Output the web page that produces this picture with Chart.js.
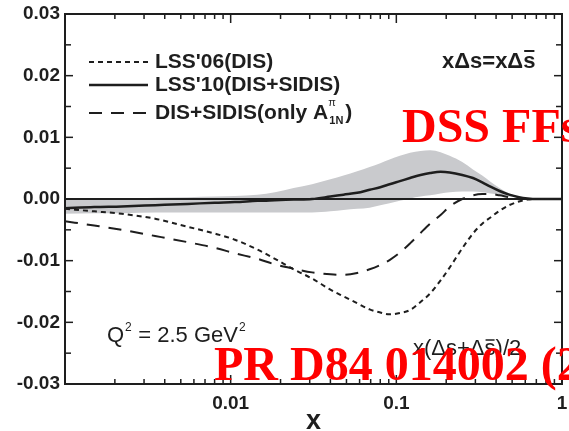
<!DOCTYPE html>
<html>
<head>
<meta charset="utf-8">
<script src="https://cdn.jsdelivr.net/npm/chart.js@4.4.1/dist/chart.umd.min.js"></script>
<style>
  html, body { margin: 0; padding: 0; background: #fff; }
  #wrap { width: 569px; height: 431px; }
</style>
</head>
<body>
<div id="wrap"><canvas id="chart"></canvas></div>
<script>
// x values shared by all curves
var xValues = [0.001, 0.0015, 0.0022, 0.0035, 0.0055, 0.008, 0.0106, 0.0145, 0.0185, 0.024,
               0.031, 0.04, 0.048, 0.058, 0.069, 0.08, 0.091, 0.105, 0.121, 0.14,
               0.16, 0.185, 0.21, 0.25, 0.29, 0.33, 0.37, 0.42, 0.48, 0.55,
               0.62, 0.7, 0.85, 1.0];

// LSS'06(DIS), dotted
var lss06 = [-0.0016, -0.0020, -0.0024, -0.0032, -0.0045, -0.0056, -0.0066, -0.0082, -0.0097, -0.0114,
             -0.0129, -0.0147, -0.0158, -0.0169, -0.0179, -0.0184, -0.0187, -0.0185, -0.0180, -0.0167,
             -0.0153, -0.0132, -0.0111, -0.0080, -0.0056, -0.0040, -0.0030, -0.0019, -0.0010, -0.0004,
             -0.0001, 0, 0, 0];

// LSS'10(DIS+SIDIS), solid
var lss10 = [-0.0015, -0.0013, -0.0012, -0.0010, -0.0008, -0.0006, -0.0005, -0.0003, -0.0002, -0.0001,
             0.0000, 0.0004, 0.0007, 0.0010, 0.0015, 0.0019, 0.0024, 0.0029, 0.0034, 0.0039,
             0.0042, 0.0044, 0.0043, 0.0039, 0.0034, 0.0027, 0.0020, 0.0013, 0.0007, 0.0003,
             0.0001, 0, 0, 0];

// DIS+SIDIS(only A1N pi), dashed
var onlyA1N = [-0.0036, -0.0043, -0.0050, -0.0060, -0.0070, -0.0079, -0.0088, -0.0097, -0.0106, -0.0113,
               -0.0119, -0.0122, -0.0123, -0.0120, -0.0114, -0.0107, -0.0099, -0.0087, -0.0072, -0.0055,
               -0.0040, -0.0026, -0.0012, 0.0000, 0.0006, 0.0008, 0.0008, 0.0006, 0.0003, 0.0001,
               0, 0, 0, 0];

// error band of LSS'10
var bandUpper = [0.0000, 0.0001, 0.0001, 0.0002, 0.0003, 0.0004, 0.0005, 0.0007, 0.0011, 0.0018,
                 0.0024, 0.0032, 0.0038, 0.0045, 0.0052, 0.0058, 0.0064, 0.0070, 0.0075, 0.0078,
                 0.0079, 0.0076, 0.0070, 0.0060, 0.0048, 0.0038, 0.0028, 0.0018, 0.0009, 0.0004,
                 0.0001, 0, 0, 0];
var bandLower = [-0.0024, -0.0023, -0.0023, -0.0022, -0.0022, -0.0022, -0.0022, -0.0022, -0.0022, -0.0022,
                 -0.0022, -0.0020, -0.0018, -0.0016, -0.0014, -0.0010, -0.0007, -0.0003, 0.0001, 0.0004,
                 0.0006, 0.0009, 0.0011, 0.0012, 0.0012, 0.0011, 0.0009, 0.0007, 0.0004, 0.0002,
                 0.0001, 0, 0, 0];

var xRange = [0.001, 1];
var zeroLine = [0, 0];
var xLabelTicks = [0.01, 0.1, 1];
var seriesLabels = ["LSS'06(DIS)", "LSS'10(DIS+SIDIS)", "DIS+SIDIS(only A"];

function points(xs, ys) {
    return xs.map(function (x, i) { return { x: x, y: ys[i] }; });
}

var ink = '#1e1e1e';
var sans = '"Liberation Sans", Arial, sans-serif';

function seg(ctx, x1, y1, x2, y2) {
    ctx.beginPath(); ctx.moveTo(x1, y1); ctx.lineTo(x2, y2); ctx.stroke();
}

var extras = {
    id: 'extras',
    afterDraw: function (chart) {
        var ctx = chart.ctx, a = chart.chartArea;
        var xs = chart.scales.x, ys = chart.scales.y;
        ctx.save();

        // frame
        ctx.strokeStyle = ink;
        ctx.lineWidth = 2;
        ctx.setLineDash([]);
        ctx.strokeRect(a.left, a.top, a.right - a.left, a.bottom - a.top);

        // inward ticks
        ctx.lineWidth = 1.5;
        for (var k = -5; k <= 5; k++) {
            var py = ys.getPixelForValue(k * 0.005);
            var len = k % 2 === 0 ? 8 : 6;
            seg(ctx, a.left, py, a.left + len, py);
            seg(ctx, a.right, py, a.right - len, py);
        }
        [0.001, 0.01, 0.1].forEach(function (d) {
            for (var m = 1; m <= 9; m++) {
                var px = xs.getPixelForValue(m * d);
                var l = m === 1 ? 9 : 5;
                seg(ctx, px, a.bottom, px, a.bottom - l);
                seg(ctx, px, a.top, px, a.top + l);
            }
        });

        // legend
        var ds = chart.data.datasets;
        var rows = [a.top + 48, a.top + 71, a.top + 99];
        for (var i = 0; i < 3; i++) {
            ctx.strokeStyle = ink;
            ctx.lineWidth = ds[i].borderWidth;
            ctx.setLineDash(ds[i].borderDash || []);
            seg(ctx, a.left + 24, rows[i], a.left + 83, rows[i]);
        }
        ctx.setLineDash([]);
        ctx.fillStyle = ink;
        ctx.textBaseline = 'middle';
        ctx.textAlign = 'left';
        ctx.font = 'bold 21px ' + sans;
        var tx = a.left + 90;
        ctx.fillText(seriesLabels[0], tx, rows[0]);
        ctx.fillText(seriesLabels[1], tx, rows[1]);
        ctx.fillText(seriesLabels[2], tx, rows[2]);
        var w = ctx.measureText(seriesLabels[2]).width;
        ctx.font = '11px ' + sans;
        ctx.fillText('\u03c0', tx + w, rows[2] - 10);
        ctx.font = 'bold 11px ' + sans;
        ctx.fillText('1N', tx + w + 1, rows[2] + 8);
        var w2 = ctx.measureText('1N').width;
        ctx.font = 'bold 21px ' + sans;
        ctx.fillText(')', tx + w + w2 + 3, rows[2]);

        // x\u0394s = x\u0394s-bar
        ctx.font = 'bold 22px ' + sans;
        var t1 = 'x\u0394s=x\u0394';
        var sx = 442;
        ctx.fillText(t1 + 's', sx, a.top + 48);
        var wa = ctx.measureText(t1).width, ws = ctx.measureText('s').width;
        ctx.lineWidth = 2;
        ctx.strokeStyle = ink;
        seg(ctx, sx + wa + 1, a.top + 37, sx + wa + ws - 1, a.top + 37);

        // Q^2 label
        ctx.font = '22px ' + sans;
        ctx.textBaseline = 'alphabetic';
        var qx = 107, qy = 342;
        ctx.fillText('Q', qx, qy);
        var qw = ctx.measureText('Q').width;
        ctx.font = '12px ' + sans;
        ctx.fillText('2', qx + qw + 1, qy - 11);
        ctx.font = '22px ' + sans;
        var mid = ' = 2.5 GeV';
        ctx.fillText(mid, qx + qw + 8, qy);
        var mw = ctx.measureText(mid).width;
        ctx.font = '12px ' + sans;
        ctx.fillText('2', qx + qw + 8 + mw + 1, qy - 11);

        // x(\u0394s+\u0394s-bar)/2
        ctx.font = '22px ' + sans;
        var lx = 413, ly = 355;
        var p1 = 'x(\u0394s+\u0394';
        ctx.fillText(p1 + 's)/2', lx, ly);
        var pw = ctx.measureText(p1).width, sw = ctx.measureText('s').width;
        ctx.lineWidth = 1.5;
        seg(ctx, lx + pw + 1, ly - 15, lx + pw + sw - 1, ly - 15);

        // red overlay text
        ctx.fillStyle = '#ff0000';
        ctx.font = 'bold 48px "Liberation Serif", "Times New Roman", serif';
        ctx.fillText('DSS FFs', 402, 142);
        ctx.fillText('PR D84 014002 (2011)', 214, 380);
        ctx.restore();
    }
};

var chart = new Chart(document.getElementById('chart'), {
    type: 'line',
    data: {
        datasets: [
            {
                label: seriesLabels[0],
                data: points(xValues, lss06),
                borderColor: ink,
                borderWidth: 2,
                borderDash: [5, 4],
                pointRadius: 0,
                fill: false,
                cubicInterpolationMode: 'monotone'
            },
            {
                label: seriesLabels[1],
                data: points(xValues, lss10),
                borderColor: ink,
                borderWidth: 2.5,
                pointRadius: 0,
                fill: false,
                cubicInterpolationMode: 'monotone'
            },
            {
                label: seriesLabels[2],
                data: points(xValues, onlyA1N),
                borderColor: ink,
                borderWidth: 2,
                borderDash: [13, 9],
                pointRadius: 0,
                fill: false,
                cubicInterpolationMode: 'monotone'
            },
            {
                label: 'zero',
                data: points(xRange, zeroLine),
                borderColor: ink,
                borderWidth: 2,
                pointRadius: 0,
                fill: false
            },
            {
                label: 'band upper',
                data: points(xValues, bandUpper),
                borderWidth: 0,
                borderColor: 'rgba(0,0,0,0)',
                backgroundColor: 'rgb(201,202,205)',
                pointRadius: 0,
                fill: '+1',
                cubicInterpolationMode: 'monotone'
            },
            {
                label: 'band lower',
                data: points(xValues, bandLower),
                borderWidth: 0,
                borderColor: 'rgba(0,0,0,0)',
                pointRadius: 0,
                fill: false,
                cubicInterpolationMode: 'monotone'
            }
        ]
    },
    options: {
        responsive: true,
        maintainAspectRatio: false,
        animation: false,
        devicePixelRatio: 1,
        layout: { padding: { top: 14, right: 7, left: 0, bottom: 0 } },
        plugins: {
            legend: { display: false },
            tooltip: { enabled: false }
        },
        scales: {
            x: {
                type: 'logarithmic',
                min: xRange[0],
                max: xRange[1],
                grid: { display: false, drawTicks: false },
                border: { display: false },
                afterFit: function (s) {
                    s.height = 47;
                    s.paddingLeft = 0;
                    s.paddingRight = 0;
                },
                ticks: {
                    autoSkip: false,
                    maxRotation: 0,
                    padding: 8,
                    color: ink,
                    font: { family: sans, size: 19, weight: 'bold' },
                    callback: function (v) {
                        for (var i = 0; i < xLabelTicks.length; i++) {
                            if (Math.abs(v - xLabelTicks[i]) < 1e-9) return String(xLabelTicks[i]);
                        }
                        return '';
                    }
                },
                title: {
                    display: true,
                    text: 'x',
                    color: ink,
                    padding: { top: 0, bottom: -7 },
                    font: { family: sans, size: 27, weight: 'bold' }
                }
            },
            y: {
                min: -0.03,
                max: 0.03,
                grid: { display: false, drawTicks: false },
                border: { display: false },
                afterFit: function (s) {
                    s.width = 65;
                    s.paddingTop = 0;
                    s.paddingBottom = 0;
                },
                ticks: {
                    stepSize: 0.01,
                    padding: 5,
                    color: ink,
                    font: { family: sans, size: 19, weight: 'bold' },
                    callback: function (v) { return v.toFixed(2); }
                }
            }
        }
    },
    plugins: [extras]
});
</script>
</body>
</html>
